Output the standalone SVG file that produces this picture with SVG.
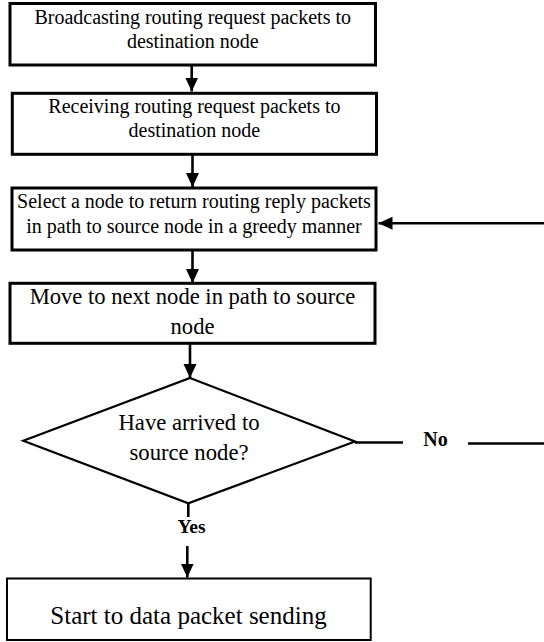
<svg xmlns="http://www.w3.org/2000/svg" width="544" height="642" viewBox="0 0 544 642">
<style>
.box{fill:#fff;stroke:#000;stroke-width:3}
.thin{stroke-width:2}
.dia{fill:#fff;stroke:#000;stroke-width:2.2}
text{font-family:'Liberation Serif','Times New Roman',Tinos,'DejaVu Serif',serif;fill:#000;text-anchor:middle}
.lbl{font-weight:bold}
.ln{stroke:#000;stroke-width:2.6;fill:none}
</style>
<defs>
<marker id="ah" markerUnits="userSpaceOnUse" markerWidth="14" markerHeight="14" refX="14" refY="6.5" orient="auto">
<path d="M0,0 L14,6.5 L0,13 z" fill="#000"/>
</marker>
</defs>
<g id="connectors">
<line class="ln" x1="191.7" y1="65" x2="191.7" y2="91.5" marker-end="url(#ah)"/>
<line class="ln" x1="192.5" y1="154" x2="192.5" y2="187" marker-end="url(#ah)"/>
<line class="ln" x1="192.5" y1="250" x2="192.5" y2="283" marker-end="url(#ah)"/>
<line class="ln" x1="190" y1="343" x2="190" y2="378" marker-end="url(#ah)"/>
<line class="ln" x1="188.3" y1="503" x2="188.3" y2="517"/>
<line class="ln" x1="187.3" y1="546" x2="187.3" y2="577.5" marker-end="url(#ah)"/>
<line class="ln" x1="355" y1="442.5" x2="403" y2="442.5"/>
<line class="ln" x1="468" y1="443.5" x2="544" y2="443.5"/>
<line class="ln" x1="544" y1="223.3" x2="378.5" y2="223.3" marker-end="url(#ah)"/>
<text class="lbl" x="435.5" y="446" font-size="20" font-family="Liberation Serif, serif">No</text>
<text class="lbl" x="191.5" y="533.3" font-size="19.5" font-family="Liberation Serif, serif">Yes</text>
</g>
<g id="n1">
<rect class="box" x="10" y="3.5" width="365.5" height="61.5"/>
<text x="192.7" y="24" font-size="20" font-family="Liberation Serif, serif">Broadcasting routing request packets to</text>
<text x="192.7" y="48.3" font-size="20" font-family="Liberation Serif, serif">destination node</text>
</g>
<g id="n2">
<rect class="box" x="12.3" y="93.3" width="364.2" height="61"/>
<text x="194.4" y="113.3" font-size="20" font-family="Liberation Serif, serif">Receiving routing request packets to</text>
<text x="194.4" y="137.3" font-size="20" font-family="Liberation Serif, serif">destination node</text>
</g>
<g id="n3">
<rect class="box" x="12" y="188" width="364" height="62"/>
<text x="194" y="208.3" font-size="20" font-family="Liberation Serif, serif">Select a node to return routing reply packets</text>
<text x="194" y="233.3" font-size="20" font-family="Liberation Serif, serif">in path to source node in a greedy manner</text>
</g>
<g id="n4">
<rect class="box" x="10" y="283.3" width="365" height="60"/>
<text x="192.5" y="304" font-size="22.6" font-family="Liberation Serif, serif">Move to next node in path to source</text>
<text x="192.5" y="334" font-size="22.6" font-family="Liberation Serif, serif">node</text>
</g>
<g id="n5">
<polygon class="dia" points="190,378 355,441.5 188.3,503.3 23.3,440.7"/>
<text x="189" y="430" font-size="22.7" font-family="Liberation Serif, serif">Have arrived to</text>
<text x="189" y="460" font-size="22.7" font-family="Liberation Serif, serif">source node?</text>
</g>
<g id="n6">
<rect class="box thin" x="7" y="578.5" width="363.7" height="61.5"/>
<text x="188.5" y="624" font-size="25" font-family="Liberation Serif, serif">Start to data packet sending</text>
</g>
</svg>
